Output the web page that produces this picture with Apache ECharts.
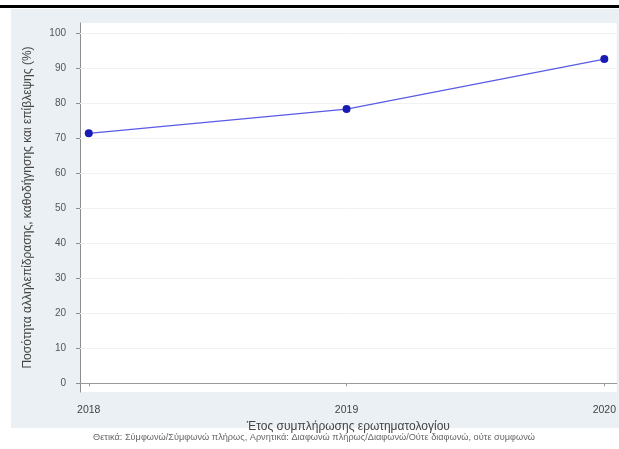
<!DOCTYPE html>
<html><head><meta charset="utf-8">
<script src="https://cdn.jsdelivr.net/npm/echarts@6/dist/echarts.min.js"></script>
<style>html,body{margin:0;padding:0;background:#fff}#c{width:619px;height:449px}</style>
</head><body><div id="c"></div>
<script>
const years = [2018, 2019, 2020];
const values = [71.4, 78.3, 92.6];
const yTicks = [0, 10, 20, 30, 40, 50, 60, 70, 80, 90, 100];
const xTicks = [2018, 2019, 2020];
const yName = 'Ποσότητα αλληλεπίδρασης, καθοδήγησης και επίβλεψης (%)';
const xName = 'Έτος συμπλήρωσης ερωτηματολογίου';
const note = 'Θετικά: Σύμφωνώ/Σύμφωνώ πλήρως, Αρνητικά: Διαφωνώ πλήρως/Διαφωνώ/Ούτε διαφωνώ, ούτε συμφωνώ';

const chart = echarts.init(document.getElementById('c'), null, {renderer: 'canvas'});
const font = 'Liberation Sans';
chart.setOption({
  backgroundColor: '#ffffff',
  animation: false,
  textStyle: {fontFamily: font},
  graphic: [
    {type: 'rect', z: -10, shape: {x: 0, y: 5, width: 619, height: 3}, style: {fill: '#000'}},
    {type: 'rect', z: -10, shape: {x: 11, y: 9, width: 608, height: 419}, style: {fill: '#eaf0f3'}},
    {type: 'text', x: 314, y: 437, style: {text: note, fontSize: 9.2, fill: '#666', fontFamily: font, align: 'center', verticalAlign: 'middle'}}
  ],
  grid: {left: 80, top: 23, right: 0, bottom: 57, show: true, backgroundColor: '#fff', borderWidth: 0},
  xAxis: {
    type: 'value', min: 2017.966, max: 2020.048,
    name: xName, nameLocation: 'middle', nameGap: 21,
    nameTextStyle: {fontSize: 12, color: '#444', fontFamily: font},
    axisLine: {show: true, lineStyle: {color: '#999', width: 1}},
    axisTick: {show: true, length: 3, customValues: xTicks, lineStyle: {color: '#999'}},
    axisLabel: {customValues: xTicks, fontSize: 10.5, color: '#444', margin: 13, fontFamily: font,
      formatter: v => String(Math.round(v))},
    splitLine: {show: false}
  },
  yAxis: {
    type: 'value', min: -2.5, max: 102.9,
    name: yName, nameLocation: 'middle', nameGap: 46, nameRotate: 90,
    nameTextStyle: {fontSize: 12, color: '#444', fontFamily: font},
    axisLine: {show: true, lineStyle: {color: '#8c8c8c', width: 1}},
    axisTick: {show: true, length: 4, customValues: yTicks, lineStyle: {color: '#8c8c8c'}},
    axisLabel: {customValues: yTicks, fontSize: 10, color: '#555', margin: 14, fontFamily: font},
    splitLine: {show: false}
  },
  series: [
    {
      type: 'line', data: years.map((y, i) => [y, values[i]]),
      symbol: 'circle', symbolSize: 8,
      lineStyle: {color: '#5a5ae8', width: 1.2},
      itemStyle: {color: '#1a1ab4'},
      markLine: {
        silent: true, symbol: 'none', label: {show: false},
        lineStyle: {color: '#f2f2f2', width: 1, type: 'solid'},
        data: yTicks.filter(v => v > 0).map(v => ({yAxis: v}))
      },
      z: 5
    }
  ]
});
</script></body></html>
